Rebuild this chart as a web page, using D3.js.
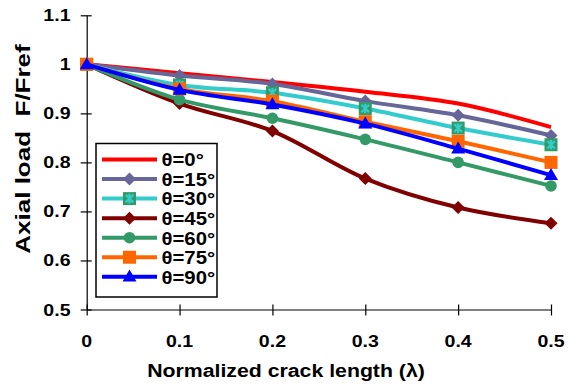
<!DOCTYPE html>
<html><head><meta charset="utf-8">
<script src="https://cdn.jsdelivr.net/npm/d3@7"></script>
<style>
html,body{margin:0;padding:0;background:#fff;}
svg{display:block;font-family:"Liberation Sans",Arial,sans-serif;font-weight:bold;}
</style></head>
<body>
<svg id="chart" width="568" height="387"></svg>
<script>
const crackLengths = [0, 0.1, 0.2, 0.3, 0.4, 0.5];
const xTickLabels = ["0", "0.1", "0.2", "0.3", "0.4", "0.5"];
const yTickValues = [0.5, 0.6, 0.7, 0.8, 0.9, 1.0, 1.1];
const yTickLabels = ["0.5", "0.6", "0.7", "0.8", "0.9", "1", "1.1"];
const seriesNames = ["θ=0°", "θ=15°", "θ=30°", "θ=45°", "θ=60°", "θ=75°", "θ=90°"];
const theta0  = [1, 0.982, 0.964, 0.944, 0.920, 0.872];
const theta15 = [1, 0.977, 0.960, 0.925, 0.896, 0.855];
const theta30 = [1, 0.958, 0.942, 0.910, 0.870, 0.836];
const theta45 = [1, 0.920, 0.864, 0.767, 0.708, 0.676];
const theta60 = [1, 0.928, 0.890, 0.847, 0.800, 0.752];
const theta75 = [1, 0.950, 0.925, 0.883, 0.843, 0.800];
const theta90 = [1, 0.948, 0.918, 0.879, 0.828, 0.774];
const seriesValues = [theta0, theta15, theta30, theta45, theta60, theta75, theta90];
const lineColors = ["#FF0000", "#666699", "#33CCCC", "#800000", "#339966", "#FF6600", "#0000FF"];
const markerTypes = ["none", "diamond", "squareX", "diamond", "circle", "square", "triangle"];

const svg = d3.select("#chart");
const x = d3.scaleLinear().domain([0, 0.5]).range([86.7, 551]);
const y = d3.scaleLinear().domain([0.5, 1.1]).range([309.5, 15.3]);

// axes
const gx = svg.append("g").attr("transform", `translate(0,${y(0.5)})`);
gx.call(d3.axisBottom(x).tickValues(crackLengths).tickSize(0).tickFormat(""));
gx.select(".domain").attr("stroke", "#000").attr("stroke-width", 1.2);
gx.selectAll(".tick").append("line").attr("y1", -5).attr("y2", 6).attr("stroke", "#000").attr("stroke-width", 1.2);

const gy = svg.append("g").attr("transform", `translate(${x(0)},0)`);
gy.call(d3.axisLeft(y).tickValues(yTickValues).tickSize(0).tickFormat(""));
gy.select(".domain").attr("stroke", "#000").attr("stroke-width", 1.2);
gy.selectAll(".tick").append("line").attr("x1", -6).attr("x2", 5).attr("stroke", "#000").attr("stroke-width", 1.2);

const SX = 1.15;
// x tick labels
crackLengths.forEach((v, i) => {
  svg.append("text").attr("transform", `translate(${x(v)},346.5) scale(${SX},1)`)
    .attr("text-anchor", "middle").attr("font-size", 17).text(xTickLabels[i]);
});
// y tick labels
yTickValues.forEach((v, i) => {
  svg.append("text").attr("transform", `translate(70.5,${y(v) + 6}) scale(${SX},1)`)
    .attr("text-anchor", "end").attr("font-size", 17).text(yTickLabels[i]);
});
// axis titles
svg.append("text").attr("transform", `translate(286,377) scale(${SX},1)`)
  .attr("text-anchor", "middle").attr("font-size", 18.5).text("Normalized crack length (λ)");
svg.append("text").attr("transform", `translate(29.5,149) rotate(-90) scale(1.3,1)`)
  .attr("text-anchor", "middle").attr("font-size", 20).attr("xml:space", "preserve").text("Axial load  F/Fref");

// markers
function drawMarker(g, type, cx, cy, color) {
  if (type === "diamond") {
    const r = 6.5;
    g.append("path").attr("d", `M${cx},${cy - r}L${cx + r},${cy}L${cx},${cy + r}L${cx - r},${cy}Z`).attr("fill", color);
  } else if (type === "square") {
    const r = 6.5;
    g.append("rect").attr("x", cx - r).attr("y", cy - r).attr("width", 2 * r).attr("height", 2 * r).attr("fill", color);
  } else if (type === "squareX") {
    const r = 6.5;
    g.append("rect").attr("x", cx - r).attr("y", cy - r).attr("width", 2 * r).attr("height", 2 * r).attr("fill", "#339966");
    const k = 3.8;
    g.append("path").attr("d", `M${cx - k},${cy - k}L${cx + k},${cy + k}M${cx + k},${cy - k}L${cx - k},${cy + k}M${cx},${cy - k - 1}L${cx},${cy - 1}M${cx},${cy + 1}L${cx},${cy + k + 1}`)
      .attr("stroke", "#33CCCC").attr("stroke-width", 2.2);
  } else if (type === "circle") {
    g.append("circle").attr("cx", cx).attr("cy", cy).attr("r", 5.8).attr("fill", color);
  } else if (type === "triangle") {
    const w = 7, h = 12;
    g.append("path").attr("d", `M${cx},${cy - h * 0.6}L${cx + w},${cy + h * 0.4}L${cx - w},${cy + h * 0.4}Z`).attr("fill", color);
  }
}

const line = d3.line().x(d => x(d[0])).y(d => y(d[1])).curve(d3.curveCatmullRom.alpha(0.5));
seriesValues.forEach((vals, si) => {
  const g = svg.append("g");
  const pts = crackLengths.map((c, i) => [c, vals[i]]);
  g.append("path").attr("d", line(pts)).attr("fill", "none").attr("stroke", lineColors[si])
    .attr("stroke-width", 4).attr("stroke-linejoin", "round");
  pts.forEach(p => drawMarker(g, markerTypes[si], x(p[0]), y(p[1]), lineColors[si]));
});

// legend
const lg = svg.append("g");
lg.append("rect").attr("x", 96).attr("y", 143.5).attr("width", 121).attr("height", 153.5)
  .attr("fill", "#fff").attr("stroke", "#000").attr("stroke-width", 1.5);
seriesNames.forEach((name, i) => {
  const cy = 159.5 + i * 19.55;
  lg.append("line").attr("x1", 102).attr("x2", 157).attr("y1", cy).attr("y2", cy)
    .attr("stroke", lineColors[i]).attr("stroke-width", 4);
  drawMarker(lg, markerTypes[i], 129.5, cy, lineColors[i]);
  lg.append("text").attr("transform", `translate(161.5,${cy + 6.8}) scale(1.1,1)`)
    .attr("font-size", 18.5).text(name);
});
</script>
</body></html>
